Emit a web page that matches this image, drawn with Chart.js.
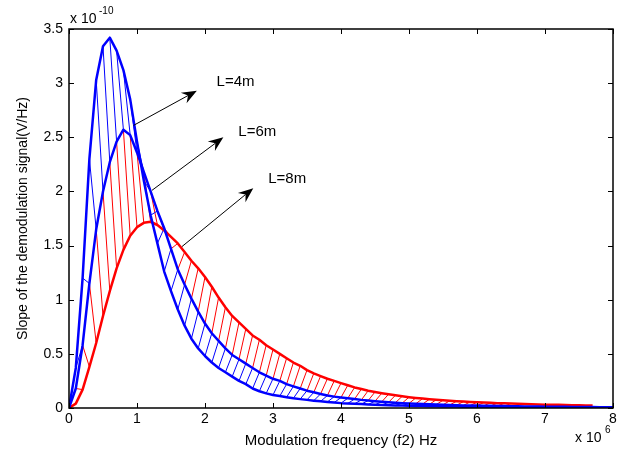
<!DOCTYPE html>
<html>
<head>
<meta charset="utf-8">
<title>Slope of the demodulation signal</title>
<script src="https://cdn.jsdelivr.net/npm/chart.js@4.4.1/dist/chart.umd.min.js"></script>
<style>
  html, body { margin: 0; padding: 0; background: #fff; }
</style>
</head>
<body>
<canvas id="slopeChart" width="636" height="458"></canvas>
<script>
// slope values in units of 1e-10 V/Hz, sampled every 0.1 x 1e6 Hz from 0 to 8
const slope4m = [
  0, 0.37, 1.20, 2.30, 3.03, 3.34, 3.42, 3.30, 3.12, 2.85,
  2.46, 2.10, 1.78, 1.52, 1.26, 1.08, 0.91, 0.76, 0.64, 0.55,
  0.48, 0.42, 0.37, 0.33, 0.29, 0.25, 0.22, 0.18, 0.155, 0.135,
  0.12, 0.11, 0.10, 0.09, 0.082, 0.075, 0.068, 0.062, 0.056, 0.050,
  0.045, 0.042, 0.039, 0.036, 0.033, 0.030, 0.028, 0.026, 0.024, 0.022,
  0.020, 0.019, 0.018, 0.017, 0.016, 0.015, 0.014, 0.013, 0.012, 0.011,
  0.010, 0.0095, 0.009, 0.0085, 0.008, 0.0075, 0.007, 0.0068, 0.0065, 0.0062,
  0.006, 0.0057, 0.0054, 0.0051, 0.0048, 0.0045, 0.0043, 0.0041, 0.0039, 0.0037,
  0.0035
];
const slope6m = [
  0, 0.18, 0.58, 1.15, 1.65, 2.00, 2.27, 2.46, 2.57, 2.52,
  2.36, 2.18, 2.00, 1.82, 1.66, 1.47, 1.28, 1.14, 1.01, 0.89,
  0.78, 0.69, 0.62, 0.55, 0.49, 0.45, 0.41, 0.37, 0.33, 0.30,
  0.27, 0.25, 0.22, 0.20, 0.18, 0.16, 0.145, 0.13, 0.115, 0.105,
  0.097, 0.09, 0.083, 0.075, 0.069, 0.063, 0.058, 0.053, 0.049, 0.045,
  0.042, 0.039, 0.036, 0.034, 0.032, 0.030, 0.028, 0.026, 0.024, 0.023,
  0.022, 0.021, 0.020, 0.019, 0.018, 0.017, 0.016, 0.015, 0.014, 0.013,
  0.012, 0.0115, 0.011, 0.0105, 0.010, 0.0095, 0.009, 0.0085, 0.008, 0.0075,
  0.007
];
const slope8m = [
  0, 0.04, 0.17, 0.38, 0.60, 0.85, 1.08, 1.29, 1.46, 1.59,
  1.67, 1.71, 1.72, 1.69, 1.64, 1.58, 1.52, 1.44, 1.36, 1.29,
  1.21, 1.12, 1.02, 0.93, 0.85, 0.79, 0.73, 0.67, 0.63, 0.58,
  0.54, 0.50, 0.46, 0.42, 0.39, 0.35, 0.32, 0.295, 0.27, 0.25,
  0.23, 0.21, 0.19, 0.175, 0.16, 0.148, 0.137, 0.127, 0.117, 0.108,
  0.100, 0.093, 0.087, 0.081, 0.076, 0.071, 0.067, 0.063, 0.059, 0.056,
  0.053, 0.050, 0.048, 0.045, 0.043, 0.041, 0.039, 0.037, 0.035, 0.033,
  0.031, 0.030, 0.029, 0.027, 0.026, 0.025, 0.024, 0.022, null, null,
  null
];
const freq = slope4m.map((_, i) => +(i * 0.1).toFixed(1));
const xTicks = [0, 1, 2, 3, 4, 5, 6, 7, 8];
const yTicks = [0, 0.5, 1, 1.5, 2, 2.5, 3, 3.5];
const curveLabels = ["L=4m", "L=6m", "L=8m"];

// hatch between neighbouring curves reaches this many samples
const blueHatchEnd = 50;
const redHatchEnd = 65;

const FONT = "'Liberation Sans', Arial, sans-serif";

function points(values) {
  return freq.map((x, i) => ({ x: x, y: values[i] }));
}

// short segments from sample i of one curve to sample i+1 of the next one
function hatch(lower, upper, count) {
  const out = [];
  for (let i = 0; i < count; i++) {
    out.push({ x: freq[i], y: lower[i] });
    out.push({ x: freq[i + 1], y: upper[i + 1] });
    out.push({ x: freq[i + 1], y: null });
  }
  return out;
}

// arrow annotations, in data units
const notes = [
  { from: [0.95, 2.61], to: [1.88, 2.93], at: [2.17, 3.01] },
  { from: [1.22, 2.01], to: [2.27, 2.50], at: [2.49, 2.55] },
  { from: [1.66, 1.49], to: [2.71, 2.03], at: [2.93, 2.12] }
];

const matlabFrame = {
  id: "matlabFrame",
  afterDatasetsDraw(chart) {
    const { ctx, chartArea: a, scales } = chart;
    const sx = scales.x, sy = scales.y;
    ctx.save();

    // arrows + labels
    ctx.strokeStyle = "#000";
    ctx.fillStyle = "#000";
    ctx.lineWidth = 1;
    notes.forEach((n, k) => {
      const x0 = sx.getPixelForValue(n.from[0]), y0 = sy.getPixelForValue(n.from[1]);
      const x1 = sx.getPixelForValue(n.to[0]), y1 = sy.getPixelForValue(n.to[1]);
      const ang = Math.atan2(y1 - y0, x1 - x0);
      const len = 15, half = 6, back = 10;
      const bx = x1 - Math.cos(ang) * back, by = y1 - Math.sin(ang) * back;
      ctx.beginPath();
      ctx.moveTo(x0, y0);
      ctx.lineTo(bx, by);
      ctx.stroke();
      const ex = x1 - Math.cos(ang) * len, ey = y1 - Math.sin(ang) * len;
      ctx.beginPath();
      ctx.moveTo(x1, y1);
      ctx.lineTo(ex - Math.sin(ang) * half, ey + Math.cos(ang) * half);
      ctx.lineTo(bx, by);
      ctx.lineTo(ex + Math.sin(ang) * half, ey - Math.cos(ang) * half);
      ctx.closePath();
      ctx.fill();

      ctx.font = "15px " + FONT;
      ctx.textAlign = "left";
      ctx.textBaseline = "middle";
      ctx.fillText(curveLabels[k], sx.getPixelForValue(n.at[0]), sy.getPixelForValue(n.at[1]));
    });

    // box and inward ticks
    ctx.lineWidth = 1.5;
    ctx.strokeRect(a.left, a.top, a.right - a.left, a.bottom - a.top);
    ctx.lineWidth = 1;
    ctx.beginPath();
    xTicks.forEach(v => {
      const px = Math.round(sx.getPixelForValue(v)) + 0.5;
      ctx.moveTo(px, a.bottom); ctx.lineTo(px, a.bottom - 5);
      ctx.moveTo(px, a.top); ctx.lineTo(px, a.top + 5);
    });
    yTicks.forEach(v => {
      const py = Math.round(sy.getPixelForValue(v)) + 0.5;
      ctx.moveTo(a.left, py); ctx.lineTo(a.left + 5, py);
      ctx.moveTo(a.right, py); ctx.lineTo(a.right - 5, py);
    });
    ctx.stroke();

    // axis multipliers
    ctx.textAlign = "left";
    ctx.textBaseline = "alphabetic";
    ctx.font = "14px " + FONT;
    ctx.fillText("x 10", a.left + 1, a.top - 6);
    ctx.fillText("x 10", a.right - 38, a.bottom + 34);
    ctx.font = "10px " + FONT;
    ctx.fillText("-10", a.left + 30, a.top - 15);
    ctx.fillText("6", a.right - 8, a.bottom + 25);
    ctx.restore();
  }
};

new Chart(document.getElementById("slopeChart"), {
  type: "line",
  data: {
    datasets: [
      { label: curveLabels[0], data: points(slope4m), borderColor: "#0000ff", borderWidth: 2.5 },
      { label: curveLabels[1], data: points(slope6m), borderColor: "#0000ff", borderWidth: 2.5 },
      { label: curveLabels[2], data: points(slope8m), borderColor: "#ff0000", borderWidth: 2.5 },
      { label: "hatch 4-6", data: hatch(slope4m, slope6m, blueHatchEnd), borderColor: "#0000ff", borderWidth: 1 },
      { label: "hatch 6-8", data: hatch(slope6m, slope8m, redHatchEnd), borderColor: "#ff0000", borderWidth: 1 }
    ]
  },
  options: {
    responsive: false,
    animation: false,
    devicePixelRatio: 1,
    spanGaps: false,
    elements: {
      point: { radius: 0 },
      line: { tension: 0, fill: false, borderJoinStyle: "round" }
    },
    layout: { padding: { left: 0, top: 29, right: 23, bottom: 0 } },
    plugins: {
      legend: { display: false },
      tooltip: { enabled: false }
    },
    scales: {
      x: {
        type: "linear",
        min: 0,
        max: 8,
        afterBuildTicks: s => { s.ticks = xTicks.map(v => ({ value: v })); },
        afterFit: s => { s.height = 50; },
        grid: { display: false, drawTicks: false },
        border: { display: false },
        ticks: {
          color: "#000",
          padding: 3,
          maxRotation: 0,
          autoSkip: false,
          font: { family: FONT, size: 14 },
          callback: v => String(v)
        },
        title: {
          display: true,
          text: "Modulation frequency (f2) Hz",
          color: "#000",
          font: { family: FONT, size: 15 },
          padding: { top: 0, bottom: 8 }
        }
      },
      y: {
        type: "linear",
        min: 0,
        max: 3.5,
        afterBuildTicks: s => { s.ticks = yTicks.map(v => ({ value: v })); },
        afterFit: s => { s.width = 69; },
        grid: { display: false, drawTicks: false },
        border: { display: false },
        ticks: {
          color: "#000",
          padding: 6,
          autoSkip: false,
          font: { family: FONT, size: 14 },
          callback: v => String(v)
        },
        title: {
          display: true,
          text: "Slope of the demodulation signal(V/Hz)",
          color: "#000",
          font: { family: FONT, size: 14 },
          padding: { top: 15, bottom: 0 }
        }
      }
    }
  },
  plugins: [matlabFrame]
});
</script>
</body>
</html>
